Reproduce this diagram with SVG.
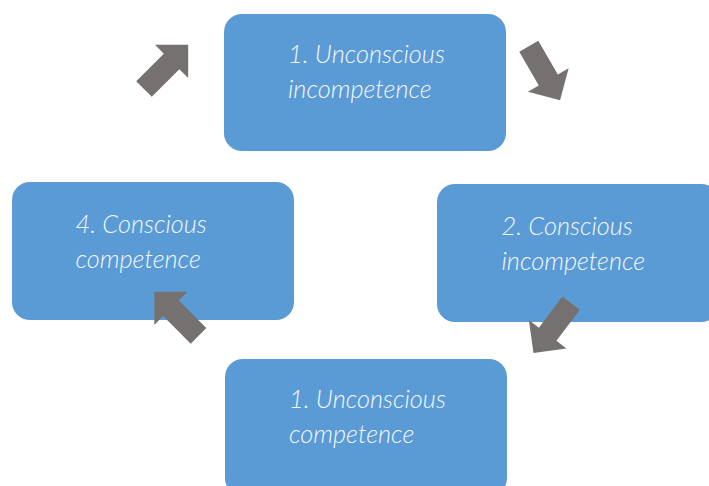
<svg xmlns="http://www.w3.org/2000/svg" xmlns:xlink="http://www.w3.org/1999/xlink" width="709" height="486" viewBox="0 0 709 486">
  <style>
    .box { fill: #5B9BD5; }
    .lbl { font-family: Lato, "Open Sans", "Liberation Sans", sans-serif; font-weight: 300; font-style: italic; font-size: 25.3px; fill: #F4F7FB; }
    .arr { fill: #767171; }
  </style>
  <defs>
    <polygon id="arrow" points="0,-11 39,-11 39,-23.5 62.5,0 39,23.5 39,11 0,11"/>
  </defs>
  <rect width="709" height="486" fill="#ffffff"/>
  <g id="node-unconscious-incompetence">
    <rect class="box" x="224" y="14" width="282" height="137" rx="18"/>
    <text class="lbl" x="288" y="63">1. Unconscious</text>
    <text class="lbl" x="288" y="98">incompetence</text>
  </g>
  <g id="node-conscious-incompetence">
    <rect class="box" x="437" y="184" width="282" height="138" rx="18"/>
    <text class="lbl" x="501.5" y="235">2. Conscious</text>
    <text class="lbl" x="501.5" y="270">incompetence</text>
  </g>
  <g id="node-unconscious-competence">
    <rect class="box" x="225" y="359" width="282" height="137" rx="18"/>
    <text class="lbl" x="289" y="408">1. Unconscious</text>
    <text class="lbl" x="289" y="443">competence</text>
  </g>
  <g id="node-conscious-competence">
    <rect class="box" x="12" y="182" width="282" height="138" rx="18"/>
    <text class="lbl" x="75.5" y="233">4. Conscious</text>
    <text class="lbl" x="75.5" y="268">competence</text>
  </g>
  <g id="connectors">
    <use class="arr" xlink:href="#arrow" transform="translate(144,89) rotate(-45)"/>
    <use class="arr" xlink:href="#arrow" transform="translate(528.8,46.2) rotate(60)"/>
    <use class="arr" xlink:href="#arrow" transform="translate(571.1,303.1) rotate(127)"/>
    <use class="arr" xlink:href="#arrow" transform="translate(198.5,335.9) rotate(225)"/>
  </g>
</svg>
